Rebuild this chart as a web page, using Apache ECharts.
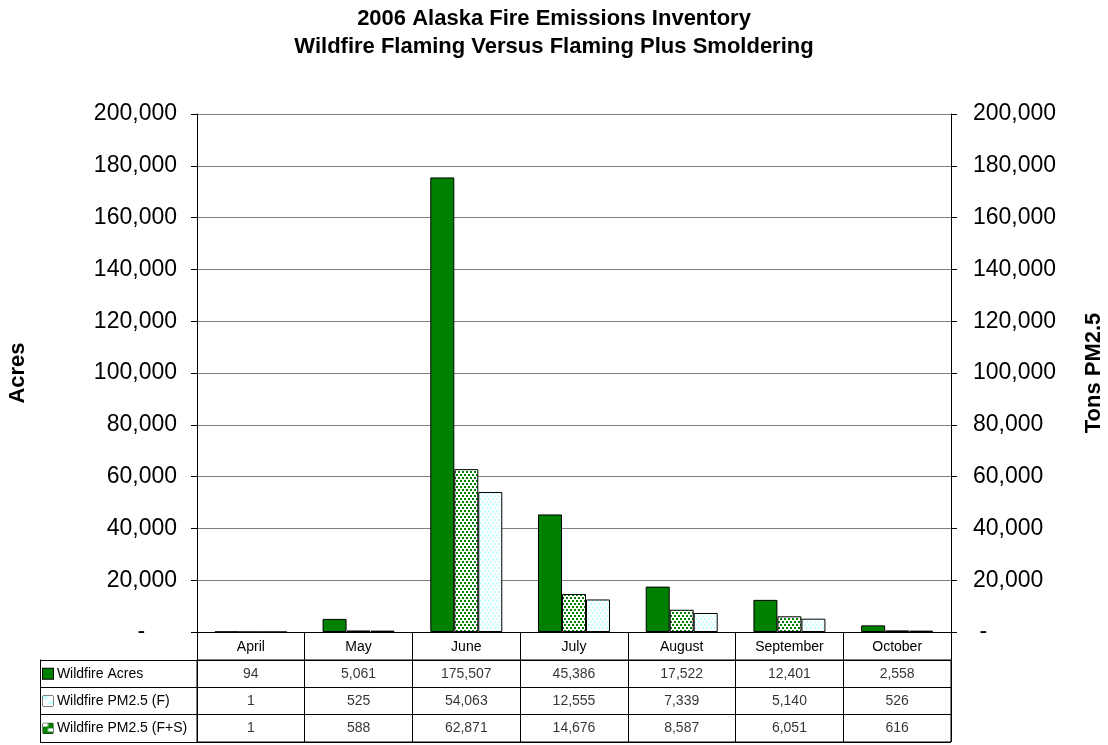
<!DOCTYPE html>
<html>
<head>
<meta charset="utf-8">
<title>2006 Alaska Fire Emissions Inventory</title>
<script src="https://cdn.jsdelivr.net/npm/echarts@6/dist/echarts.min.js"></script>
<style>
  html, body { margin: 0; padding: 0; background: #ffffff; }
  #chart { width: 1108px; height: 745px; }
</style>
</head>
<body>
<div id="chart"></div>
<script>
// Monthly wildfire acreage and PM2.5 emissions, Alaska 2006
const months = ['April', 'May', 'June', 'July', 'August', 'September', 'October'];
const wildfireAcres = [94, 5061, 175507, 45386, 17522, 12401, 2558];
const pm25Flaming = [1, 525, 54063, 12555, 7339, 5140, 526];
const pm25FlamingSmoldering = [1, 588, 62871, 14676, 8587, 6051, 616];

const rowNames = ['Wildfire Acres', 'Wildfire PM2.5 (F)', 'Wildfire PM2.5 (F+S)'];
const rowValues = [wildfireAcres, pm25Flaming, pm25FlamingSmoldering];

const FONT = '"Liberation Sans", Arial, sans-serif';
const GREEN = '#008000';

// Small staggered dot tile used as a bar fill
function dotPattern(dot, bg) {
  const c = document.createElement('canvas');
  c.width = 4; c.height = 6;
  const g = c.getContext('2d');
  g.fillStyle = bg; g.fillRect(0, 0, 4, 6);
  g.fillStyle = dot;
  g.fillRect(0, 0, 2, 2);
  g.fillRect(2, 3, 2, 2);
  return { image: c, repeat: 'repeat' };
}
const fsFill = dotPattern(GREEN, '#ffffff');
const fFill = dotPattern('#c8ffff', '#ffffff');
const fsIcon = dotPattern('#ffffff', GREEN);

const fmt = v => v.toLocaleString('en-US');

const chart = echarts.init(document.getElementById('chart'), null, { renderer: 'canvas' });

// one scatter series per table row; only the value labels are visible
const tableSeries = rowNames.map((name, r) => ({
  type: 'scatter',
  xAxisIndex: 1,
  yAxisIndex: 2,
  symbolSize: 1,
  itemStyle: { color: 'rgba(0,0,0,0)' },
  silent: true,
  label: {
    show: true,
    position: 'inside',
    formatter: p => fmt(p.value[2]),
    color: '#000',
    fontFamily: FONT,
    fontSize: 14
  },
  labelLayout: { hideOverlap: false },
  data: months.map((m, i) => [m, name, rowValues[r][i]])
}));

const iconBase = { width: 10, height: 10, borderColor: '#000', borderWidth: 1 };

chart.setOption({
  animation: false,
  backgroundColor: '#ffffff',
  title: {
    text: '2006 Alaska Fire Emissions Inventory\nWildfire Flaming Versus Flaming Plus Smoldering',
    left: 'center',
    top: 0,
    textStyle: { fontFamily: FONT, fontSize: 22, fontWeight: 'bold', color: '#000', lineHeight: 28 }
  },
  grid: [
    { left: 197, right: 157, top: 114, height: 518, outerBoundsMode: 'none', containLabel: false },
    { left: 197, right: 157, top: 660, height: 82, outerBoundsMode: 'none', containLabel: false,
      show: true, borderColor: '#000', borderWidth: 1, backgroundColor: 'transparent' }
  ],
  xAxis: [
    {
      type: 'category',
      gridIndex: 0,
      data: months,
      axisLine: { lineStyle: { color: '#000', width: 1 } },
      axisTick: { show: true, length: 28, lineStyle: { color: '#000' } },
      axisLabel: { color: '#000', fontFamily: FONT, fontSize: 14, margin: 8 }
    },
    {
      type: 'category',
      gridIndex: 1,
      data: months,
      axisLine: { show: false },
      axisTick: { show: false },
      axisLabel: { show: false },
      splitLine: { show: true, lineStyle: { color: '#000', width: 1 } }
    }
  ],
  yAxis: [
    {
      type: 'value',
      gridIndex: 0,
      min: 0, max: 200000, interval: 20000,
      name: 'Acres',
      nameLocation: 'middle',
      nameGap: 168,
      nameRotate: 90,
      nameTextStyle: { fontFamily: FONT, fontSize: 22, fontWeight: 'bold', color: '#000' },
      axisLine: { show: true, lineStyle: { color: '#000' } },
      axisTick: { show: true, length: 6, lineStyle: { color: '#000' } },
      axisLabel: {
        color: '#000', fontFamily: FONT, fontSize: 23, margin: 20,
        formatter: v => v === 0 ? '-     ' : fmt(v)
      },
      splitLine: { show: true, lineStyle: { color: '#808080', width: 1 } }
    },
    {
      type: 'value',
      gridIndex: 0,
      position: 'right',
      min: 0, max: 200000, interval: 20000,
      name: 'Tons PM2.5',
      nameLocation: 'middle',
      nameGap: 132,
      nameRotate: 90,
      nameTextStyle: { fontFamily: FONT, fontSize: 22, fontWeight: 'bold', color: '#000' },
      axisLine: { show: true, lineStyle: { color: '#000' } },
      axisTick: { show: true, length: 6, lineStyle: { color: '#000' } },
      axisLabel: {
        color: '#000', fontFamily: FONT, fontSize: 23, margin: 22,
        formatter: v => v === 0 ? ' -' : fmt(v)
      },
      splitLine: { show: false }
    },
    {
      type: 'category',
      gridIndex: 1,
      inverse: true,
      data: rowNames,
      axisLine: { show: true, lineStyle: { color: '#000' } },
      axisTick: { show: true, length: 157, lineStyle: { color: '#000' } },
      splitLine: { show: true, lineStyle: { color: '#000', width: 1 } },
      axisLabel: {
        align: 'left',
        margin: 154,
        fontFamily: FONT,
        fontSize: 14,
        color: '#000',
        formatter: (v, i) => ['{a|}', '{b|}', '{c|}'][i] + ' ' + v,
        rich: {
          a: Object.assign({ backgroundColor: GREEN }, iconBase),
          b: Object.assign({ backgroundColor: fFill }, iconBase),
          c: Object.assign({ backgroundColor: fsIcon }, iconBase)
        }
      }
    },
    {
      // outer left edge of the row-label column
      type: 'value',
      gridIndex: 1,
      position: 'left',
      offset: 157,
      axisLine: { show: true, lineStyle: { color: '#000' } },
      axisTick: { show: false },
      axisLabel: { show: false },
      splitLine: { show: false }
    }
  ],
  series: [
    {
      name: 'Wildfire Acres',
      type: 'bar',
      xAxisIndex: 0, yAxisIndex: 0,
      barWidth: 24, barGap: '0%',
      itemStyle: { color: GREEN, borderColor: '#000', borderWidth: 1 },
      data: wildfireAcres
    },
    {
      name: 'Wildfire PM2.5 (F+S)',
      type: 'bar',
      xAxisIndex: 0, yAxisIndex: 1,
      barWidth: 24, barGap: '0%',
      itemStyle: { color: fsFill, borderColor: '#000', borderWidth: 1 },
      data: pm25FlamingSmoldering
    },
    {
      name: 'Wildfire PM2.5 (F)',
      type: 'bar',
      xAxisIndex: 0, yAxisIndex: 1,
      barWidth: 24, barGap: '0%',
      itemStyle: { color: fFill, borderColor: '#000', borderWidth: 1 },
      data: pm25Flaming
    }
  ].concat(tableSeries)
});
</script>
</body>
</html>
